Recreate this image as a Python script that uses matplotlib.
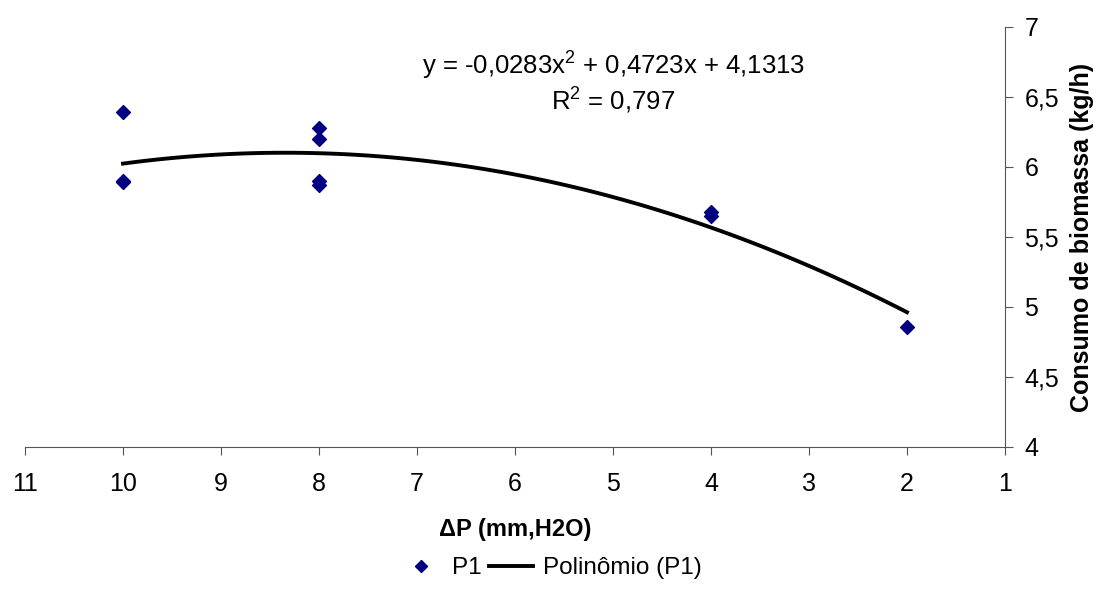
import numpy as np
import matplotlib.pyplot as plt
from matplotlib.lines import Line2D

plt.rcParams['font.family'] = ['Liberation Sans', 'DejaVu Sans']
plt.rcParams['mathtext.fontset'] = 'custom'
plt.rcParams['mathtext.rm'] = 'Liberation Sans'

# medições
dp = [10, 10, 10, 8, 8, 8, 8, 4, 4, 2]
consumo = [6.39, 5.90, 5.89, 6.28, 6.20, 5.90, 5.87, 5.68, 5.65, 4.86]

# linha de tendência (coeficientes do gráfico)
coef = [-0.0283, 0.4723, 4.1313]

x_ticks = list(range(11, 0, -1))
y_ticks = [4, 4.5, 5, 5.5, 6, 6.5, 7]
y_labels = ['4', '4,5', '5', '5,5', '6', '6,5', '7']

fig = plt.figure(figsize=(10.96, 5.98), dpi=100)
ax = fig.add_axes([25 / 1096, 1 - 447 / 598, 980 / 1096, 420 / 598])

ax.scatter(dp, consumo, marker='D', s=50, color='#000080', zorder=3)

xt = np.linspace(max(dp), min(dp), 100)
ax.plot(xt, np.polyval(coef, xt), color='black', linewidth=2.8)

ax.set_xlim(11, 1)
ax.set_ylim(4, 7)
ax.set_xticks(x_ticks)
ax.set_yticks(y_ticks)
ax.set_yticklabels(y_labels)

ax.spines['top'].set_visible(False)
ax.spines['left'].set_visible(False)
for s in ['bottom', 'right']:
    ax.spines[s].set_color('#555555')
ax.yaxis.tick_right()
ax.yaxis.set_label_position('right')
ax.tick_params(axis='both', labelsize=18, length=6, width=0.8, color='#555555',
               direction='out', pad=12)
ax.tick_params(axis='y', pad=8)

ax.set_xlabel('ΔP (mm,H2O)', fontsize=17, fontweight='bold', labelpad=16)
ax.set_ylabel('Consumo de biomassa (kg/h)', fontsize=18, fontweight='bold', labelpad=8)

ax.text(5.0, 6.73, 'y = -0,0283x$^2$ + 0,4723x + 4,1313', fontsize=18.5, ha='center', va='center')
ax.text(5.0, 6.48, 'R$^2$ = 0,797', fontsize=18.5, ha='center', va='center')

handles = [
    Line2D([], [], marker='D', linestyle='none', color='#000080', markersize=6),
    Line2D([], [], color='black', linewidth=2.8),
]
fig.legend(handles, ['P1', 'Polinômio (P1)'], loc='center', bbox_to_anchor=(0.502, 0.05),
           ncol=2, frameon=False, fontsize=17.5, handlelength=1.8, columnspacing=0.3,
           handletextpad=0.4)

fig.savefig('out.png', dpi=100)
